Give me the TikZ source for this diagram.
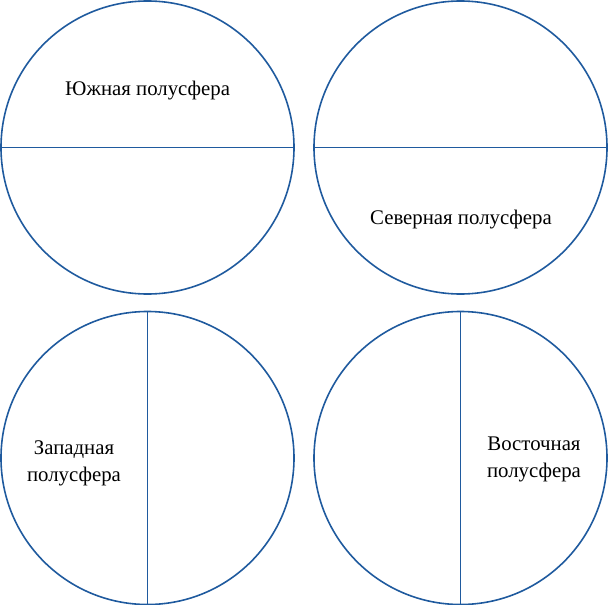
\documentclass[tikz,border=0pt]{standalone}
\usepackage{fontspec}
\setmainfont{Liberation Serif}
\definecolor{newblue}{HTML}{1F5A9E}
\usetikzlibrary{positioning}

\begin{document}
\begin{tikzpicture}[x=1pt, y=-1pt,
  hemi/.style = {circle, draw = newblue, line width = 1.6pt, minimum size = 293pt, inner sep = 0pt, outer sep = 0pt},
  divide/.style = {draw = newblue, line width = 1.6pt},
  hemilabel/.style = {font = \fontsize{20.8}{27}\selectfont, align = center, anchor = base, inner sep = 0pt}]
\useasboundingbox (0,0) rectangle (608,605);
\node[hemi] (shem) at (147.5,147.5) {};
\node[hemi] (nhem) at (460.5,147.5) {};
\node[hemi] (whem) at (147.5,458) {};
\node[hemi] (ehem) at (460.5,458) {};
\draw[divide] (shem.west) -- (shem.east);
\draw[divide] (nhem.west) -- (nhem.east);
\draw[divide] (whem.north) -- (whem.south);
\draw[divide] (ehem.north) -- (ehem.south);
\node[hemilabel] (slabel) at (147.5,95) {Южная полусфера};
\node[hemilabel] (nlabel) at (461,224) {Северная полусфера};
\node[hemilabel] (wlabel) at (74,481) {Западная\\полусфера};
\node[hemilabel] (elabel) at (534,477) {Восточная\\полусфера};
\end{tikzpicture}
\end{document}
